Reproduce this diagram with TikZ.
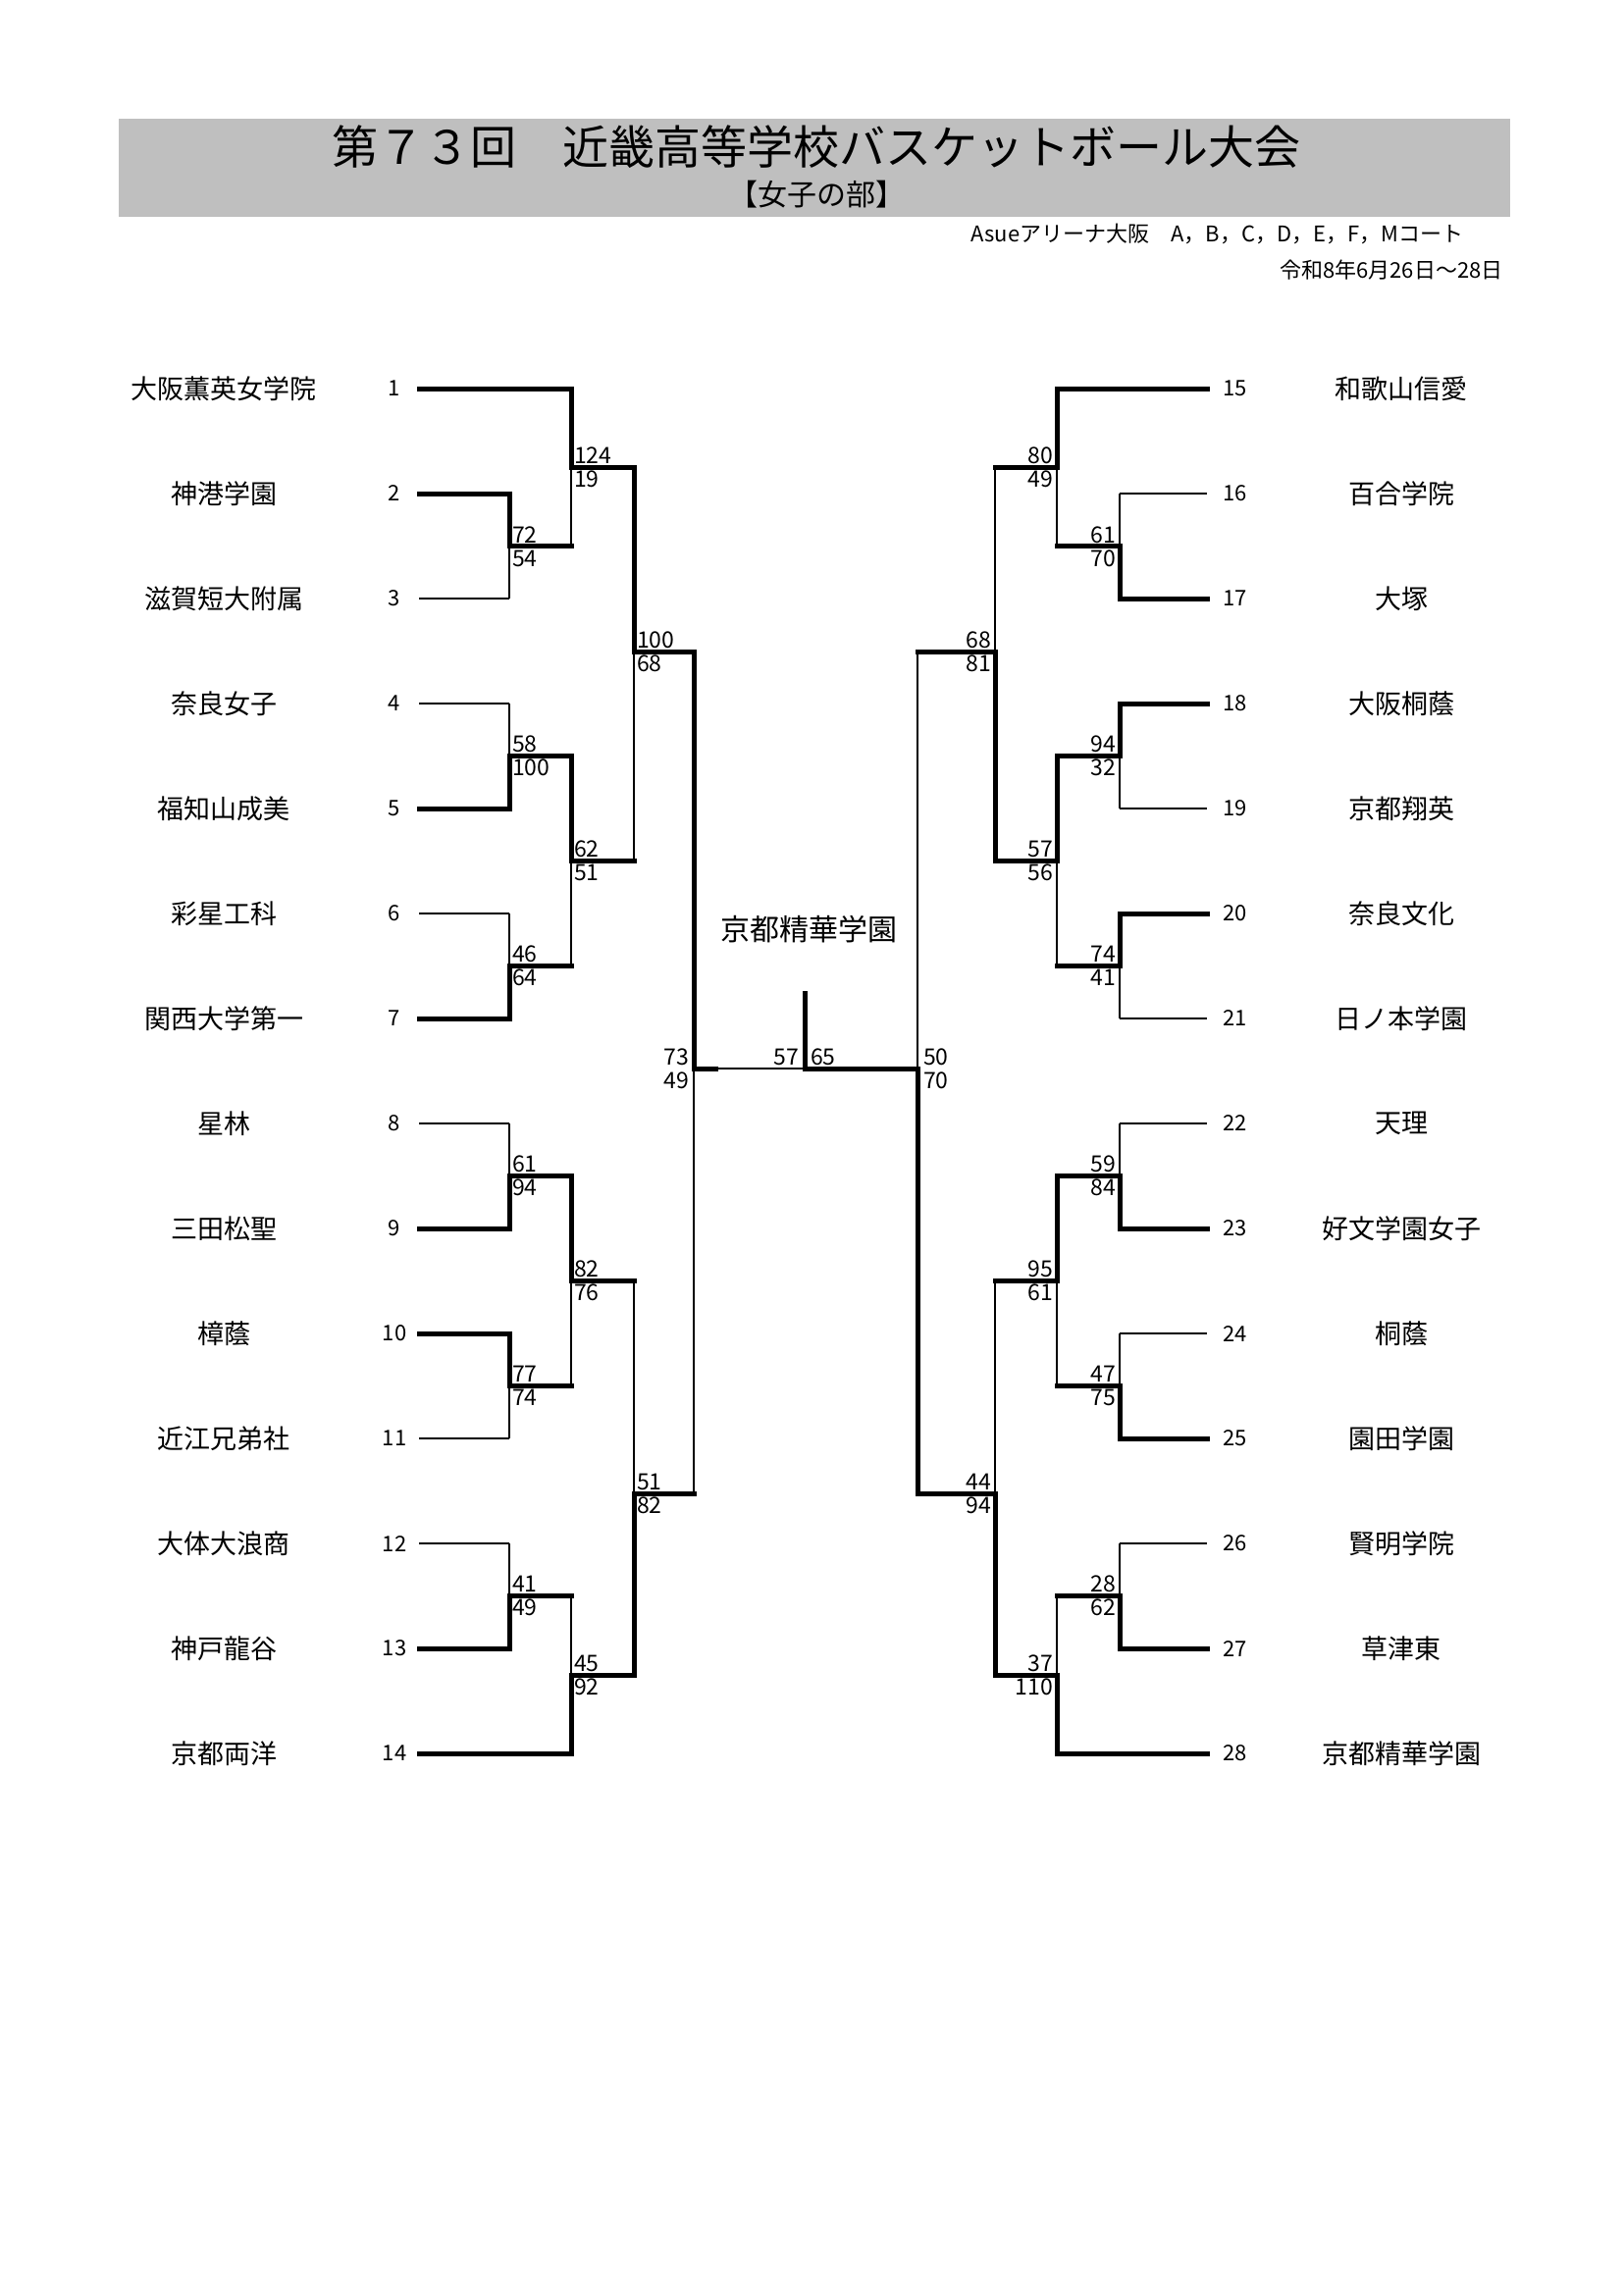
\documentclass[tikz,border=0pt]{standalone}
\usepackage{fontspec}
\setmainfont{Noto Sans CJK JP}
\begin{document}
\begin{tikzpicture}[x=1pt,y=-1pt,
  W/.style={line width=5pt,line cap=rect},
  T/.style={line width=1.4pt},
  sc/.style={font=\fontsize{23}{23}\selectfont,inner sep=1pt},
  nm/.style={font=\fontsize{27}{27}\selectfont},
  num/.style={font=\fontsize{22}{22}\selectfont}]
\useasboundingbox (0,0) rectangle (1654,2339);
\fill[black!25] (121,121) rectangle (1539,221);
\node[font=\fontsize{47}{47}\selectfont] (title) at (832,150) {第７３回　近畿高等学校バスケットボール大会};
\node[font=\fontsize{30}{30}\selectfont] (sub) at (832,198) {【女子の部】};
\node[anchor=east,font=\fontsize{22}{22}\selectfont] (info1) at (1495,238) {Asueアリーナ大阪　A，B，C，D，E，F，Mコート};
\node[anchor=east,font=\fontsize{22}{22}\selectfont] (info2) at (1535,275) {令和8年6月26日～28日};
\foreach \i/\n in {1/大阪薫英女学院,2/神港学園,3/滋賀短大附属,4/奈良女子,5/福知山成美,6/彩星工科,7/関西大学第一,8/星林,9/三田松聖,10/樟蔭,11/近江兄弟社,12/大体大浪商,13/神戸龍谷,14/京都両洋}{
  \node[nm] (ln\i) at (228,{396+107*(\i-1)}) {\n};
  \node[num] (lk\i) at (402,{396+107*(\i-1)}) {\i};
}
\foreach \i/\n in {15/和歌山信愛,16/百合学院,17/大塚,18/大阪桐蔭,19/京都翔英,20/奈良文化,21/日ノ本学園,22/天理,23/好文学園女子,24/桐蔭,25/園田学園,26/賢明学院,27/草津東,28/京都精華学園}{
  \node[nm] (rn\i) at (1428,{396+107*(\i-15)}) {\n};
  \node[num,anchor=west] (rk\i) at (1243,{396+107*(\i-15)}) {\i};
}
\newcommand\ML[8]{%
  \if#6t\draw[W] (#1,#3)--(#1,#4);\draw[T] (#1,#4)--(#1,#5);%
  \else\draw[T] (#1,#3)--(#1,#4);\draw[W] (#1,#4)--(#1,#5);\fi
  \draw[W] (#1,#4)--(#2,#4);
  \node[sc,anchor=south west] at (#1+2,#4-2) {#7};
  \node[sc,anchor=north west] at (#1+2,#4+3) {#8};}
\newcommand\MR[8]{%
  \if#6t\draw[W] (#1,#3)--(#1,#4);\draw[T] (#1,#4)--(#1,#5);%
  \else\draw[T] (#1,#3)--(#1,#4);\draw[W] (#1,#4)--(#1,#5);\fi
  \draw[W] (#1,#4)--(#2,#4);
  \node[sc,anchor=south east] at (#1-3,#4-2) {#7};
  \node[sc,anchor=north east] at (#1-3,#4+3) {#8};}
\def\tl#1#2#3{\draw[#3] (427,{396+107*(#1-1)})--(#2,{396+107*(#1-1)});}
\tl{1}{582}{W}\tl{2}{519}{W}\tl{3}{519}{T}\tl{4}{519}{T}\tl{5}{519}{W}
\tl{6}{519}{T}\tl{7}{519}{W}\tl{8}{519}{T}\tl{9}{519}{W}\tl{10}{519}{W}
\tl{11}{519}{T}\tl{12}{519}{T}\tl{13}{519}{W}\tl{14}{582}{W}
\def\tr#1#2#3{\draw[#3] (1230,{396+107*(#1-15)})--(#2,{396+107*(#1-15)});}
\tr{15}{1077}{W}\tr{16}{1141}{T}\tr{17}{1141}{W}\tr{18}{1141}{W}\tr{19}{1141}{T}
\tr{20}{1141}{W}\tr{21}{1141}{T}\tr{22}{1141}{T}\tr{23}{1141}{W}\tr{24}{1141}{T}
\tr{25}{1141}{W}\tr{26}{1141}{T}\tr{27}{1141}{W}\tr{28}{1077}{W}
\ML{519}{582}{503}{556.5}{610}{t}{72}{54}
\ML{519}{582}{717}{770}{824}{b}{58}{100}
\ML{519}{582}{931}{984}{1038}{b}{46}{64}
\ML{519}{582}{1145}{1198}{1252}{b}{61}{94}
\ML{519}{582}{1359}{1412}{1466}{t}{77}{74}
\ML{519}{582}{1573}{1626}{1680}{b}{41}{49}
\ML{582}{646}{396}{476}{556.5}{t}{124}{19}
\ML{582}{646}{770}{877}{984}{t}{62}{51}
\ML{582}{646}{1198}{1305}{1412}{t}{82}{76}
\ML{582}{646}{1626}{1707}{1787}{b}{45}{92}
\ML{646}{707}{476}{664}{877}{t}{100}{68}
\ML{646}{707}{1305}{1522}{1707}{b}{51}{82}
\draw[W] (707,664)--(707,1089); \draw[T] (707,1089)--(707,1522);
\draw[W] (707,1089)--(729,1089); \draw[T] (729,1089)--(820,1089);
\node[sc,anchor=south east] at (703,1087) {73};
\node[sc,anchor=north east] at (703,1092) {49};
\MR{1141}{1077}{503}{556.5}{610}{b}{61}{70}
\MR{1141}{1077}{717}{770}{824}{t}{94}{32}
\MR{1141}{1077}{931}{984}{1038}{t}{74}{41}
\MR{1141}{1077}{1145}{1198}{1252}{b}{59}{84}
\MR{1141}{1077}{1359}{1412}{1466}{b}{47}{75}
\MR{1141}{1077}{1573}{1626}{1680}{b}{28}{62}
\MR{1077}{1014}{396}{476}{556.5}{t}{80}{49}
\MR{1077}{1014}{770}{877}{984}{t}{57}{56}
\MR{1077}{1014}{1198}{1305}{1412}{t}{95}{61}
\MR{1077}{1014}{1626}{1707}{1787}{b}{37}{110}
\MR{1014}{935}{476}{664}{877}{b}{68}{81}
\MR{1014}{935}{1305}{1522}{1707}{b}{44}{94}
\draw[T] (935,664)--(935,1089); \draw[W] (935,1089)--(935,1522);
\draw[W] (935,1089)--(820,1089);
\node[sc,anchor=south west] at (940,1087) {50};
\node[sc,anchor=north west] at (940,1092) {70};
\draw[W] (820,1012)--(820,1089);
\node[sc,anchor=south east] at (815,1087) {57};
\node[sc,anchor=south west] at (825,1087) {65};
\node[font=\fontsize{30}{30}\selectfont] (champ) at (824,947) {京都精華学園};
\end{tikzpicture}
\end{document}
